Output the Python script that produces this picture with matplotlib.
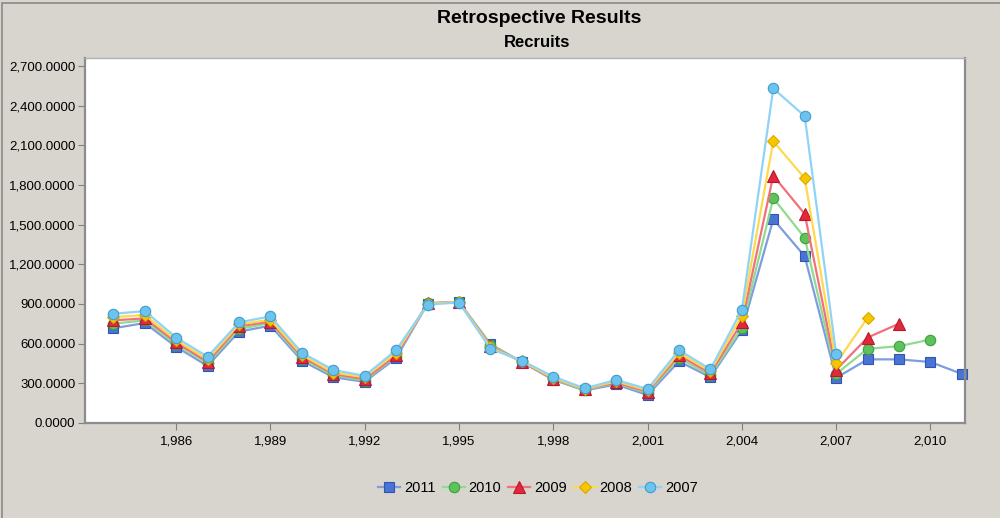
import matplotlib
matplotlib.use("Agg")
import matplotlib.pyplot as plt
from matplotlib.ticker import FuncFormatter
from matplotlib.patches import Rectangle

# Years on the x axis
years = list(range(1984, 2012))

# Recruit estimates per retrospective run
r2011 = [715, 755, 575, 430, 690, 735, 470, 345, 310, 490, 900, 915, 595, 460,
         325, 245, 290, 210, 465, 345, 700, 1540, 1260, 340, 480, 480, 460, 370]
r2010 = [750, 775, 595, 450, 710, 755, 485, 360, 320, 505, 905, 915, 590, 460,
         330, 250, 300, 225, 490, 360, 720, 1700, 1400, 370, 560, 580, 630]
r2009 = [775, 790, 610, 460, 730, 765, 500, 370, 330, 510, 905, 915, 580, 460,
         335, 255, 305, 235, 510, 375, 760, 1870, 1580, 400, 645, 750]
r2008 = [800, 815, 625, 480, 745, 780, 515, 380, 345, 530, 900, 915, 570, 465,
         340, 255, 315, 245, 530, 390, 810, 2130, 1850, 450, 795]
r2007 = [825, 845, 645, 500, 760, 805, 530, 400, 355, 550, 895, 910, 560, 470,
         350, 260, 325, 255, 550, 405, 855, 2530, 2320, 520]

labels = ["2011", "2010", "2009", "2008", "2007"]
series = [r2011, r2010, r2009, r2008, r2007]
x_ticks = list(range(1986, 2011, 3))
y_ticks = [i * 300 for i in range(10)]

markers = ["s", "o", "^", "D", "o"]
msizes = [7.5, 7.5, 8, 6, 7.5]
line_colors = ["#7e9de0", "#8fdb8f", "#f2707c", "#ffd94d", "#8fd4f7"]
face_colors = ["#4a74d4", "#5cc35c", "#e2283c", "#f8c600", "#6cc3ee"]
edge_colors = ["#2f55b0", "#3e9e3e", "#b8182a", "#d9a800", "#3f9ccc"]

bg = "#d8d5ce"
fig = plt.figure(figsize=(10, 5.18), dpi=100, facecolor=bg)
ax = fig.add_axes([0.085, 0.183, 0.88, 0.705])
ax.set_facecolor("white")

for vals, lab, m, ms, lc, fc, ec in zip(series, labels, markers, msizes,
                                        line_colors, face_colors, edge_colors):
    ax.plot(years[:len(vals)], vals, color=lc, linewidth=1.6, marker=m,
            markersize=ms, markerfacecolor=fc, markeredgecolor=ec,
            markeredgewidth=0.8, label=lab, clip_on=False)

ax.set_xlim(1983.1, 2011.1)
ax.set_xticks(x_ticks)
ax.set_yticks(y_ticks)
ax.set_ylim(-3, 2760)
ax.xaxis.set_major_formatter(FuncFormatter(lambda v, p: f"{int(v):,}"))
ax.yaxis.set_major_formatter(FuncFormatter(lambda v, p: f"{v:,.4f}"))

for t in ax.get_xticklabels() + ax.get_yticklabels():
    t.set_fontfamily(["Liberation Sans", "DejaVu Sans"])
    t.set_fontsize(9.5)
ax.tick_params(axis="both", direction="out", length=5, color="#808080",
               labelcolor="black")
ax.tick_params(axis="y", pad=2)

for s in ["left", "bottom", "right"]:
    ax.spines[s].set_color("#8c8c8c")
    ax.spines[s].set_linewidth(1.6)
ax.spines["top"].set_color("#b0b0b0")
ax.spines["top"].set_linewidth(1.0)

fig.text(0.539, 0.965, "Retrospective Results", ha="center", va="center",
         fontsize=14, fontweight="bold",
         family=["Liberation Sans Narrow", "Liberation Sans", "DejaVu Sans"])
fig.text(0.537, 0.918, "Recruits", ha="center", va="center",
         fontsize=12, fontweight="bold",
         family=["Liberation Sans Narrow", "Liberation Sans", "DejaVu Sans"])

leg = fig.legend(loc="center", bbox_to_anchor=(0.538, 0.058), ncol=5,
                 frameon=False, handlelength=1.5, handletextpad=0.25,
                 columnspacing=0.5, prop={"family": "Liberation Sans", "size": 10.5})

# outer frame of the chart panel
fig.patches.append(Rectangle((0.002, -0.01), 1.2, 1.005, transform=fig.transFigure,
                             fill=False, edgecolor="#8a8a8a", linewidth=1.2))

fig.savefig("out.png", dpi=100, facecolor=bg)
